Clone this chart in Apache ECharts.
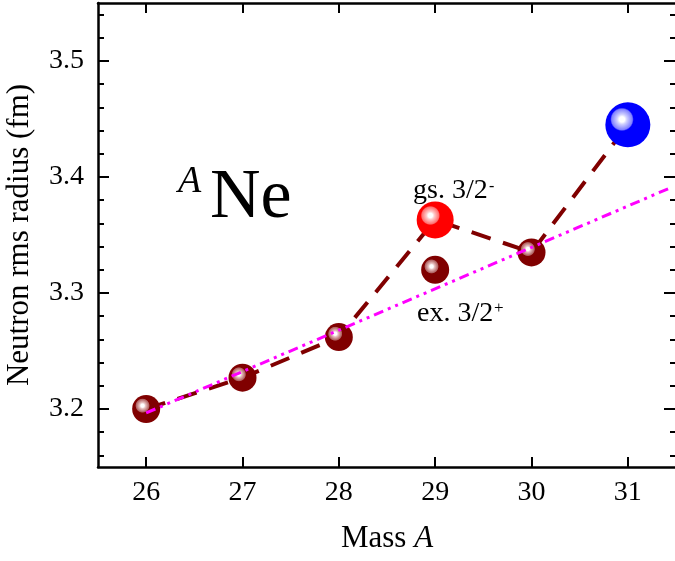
<!DOCTYPE html>
<html>
<head>
<meta charset="utf-8">
<script src="https://cdn.jsdelivr.net/npm/echarts@6/dist/echarts.min.js"></script>
<style>
html,body{margin:0;padding:0;background:#fff;}
#chart{width:675px;height:561px;}
</style>
</head>
<body>
<div id="chart"></div>
<script>
// ---- data ----
var massA = [26, 27, 28, 29, 30, 31];
var chainRadius = [3.200, 3.227, 3.262, 3.363, 3.335, 3.445];   // dashed line (gs for 29)
var evenMass = [26, 27, 28, 29, 30];
var evenRadius = [3.200, 3.227, 3.262, 3.320, 3.335];          // dark red spheres (29 = ex. 3/2+)
var gsMass = [29];
var gsRadius = [3.363];                                         // red sphere (gs. 3/2-)
var blueMass = [31];
var blueRadius = [3.445];                                       // blue sphere
var fitStart = [26.0, 3.1966];
var fitEnd = [31.45, 3.391];
var xTicks = [26, 27, 28, 29, 30, 31];
var yTicks = [3.2, 3.3, 3.4, 3.5];
var yMinorTicks = [3.16, 3.18, 3.22, 3.24, 3.26, 3.28, 3.32, 3.34, 3.36, 3.38, 3.42, 3.44, 3.46, 3.48, 3.52, 3.54];

function zip(xs, ys) { return xs.map(function (x, i) { return [x, ys[i]]; }); }

function sphere(base, ringIn, ringOut) {
  return {
    type: 'radial', x: 0.37, y: 0.38, r: 0.5,
    colorStops: [
      {offset: 0, color: '#ffffff'},
      {offset: 0.12, color: '#ffffff'},
      {offset: 0.22, color: ringIn},
      {offset: 0.46, color: ringOut},
      {offset: 0.52, color: base},
      {offset: 1, color: base}
    ]
  };
}

var FONT = '"Liberation Serif", "Times New Roman", serif';
var chart = echarts.init(document.getElementById('chart'), null, {renderer: 'canvas'});

function yAx(pos, vals, len, withLine, withLabel) {
  return {
    type: 'value', position: pos, min: 3.15, max: 3.55, interval: 0.05,
    axisLine: {show: withLine, onZero: false, lineStyle: {color: '#000', width: 2.5}},
    axisTick: {show: true, inside: true, length: len, customValues: vals, lineStyle: {color: '#000', width: 2}},
    axisLabel: withLabel ? {show: true, customValues: yTicks, margin: 14, color: '#000', fontFamily: FONT, fontSize: 28,
      formatter: function (v) { return v.toFixed(1); }} : {show: false},
    splitLine: {show: false}
  };
}

var option = {
  animation: false,
  backgroundColor: '#fff',
  grid: {left: 98, top: 3, width: 578, height: 464, containLabel: false, outerBoundsMode: 'none'},
  xAxis: [
    {
      type: 'value', position: 'bottom', min: 25.5, max: 31.5, interval: 0.5,
      name: '{r|Mass }{i|A}', nameLocation: 'middle', nameGap: 56,
      nameTextStyle: {rich: {
        r: {fontFamily: FONT, fontSize: 31, color: '#000'},
        i: {fontFamily: FONT, fontSize: 31, fontStyle: 'italic', color: '#000'}
      }},
      axisLine: {show: true, onZero: false, lineStyle: {color: '#000', width: 2.5}},
      axisTick: {show: true, inside: true, length: 10, customValues: xTicks, lineStyle: {color: '#000', width: 2}},
      axisLabel: {show: true, customValues: xTicks, margin: 12, color: '#000', fontFamily: FONT, fontSize: 28},
      splitLine: {show: false}
    },
    {
      type: 'value', position: 'top', min: 25.5, max: 31.5, interval: 0.5,
      axisLine: {show: true, onZero: false, lineStyle: {color: '#000', width: 2.5}},
      axisTick: {show: true, inside: true, length: 10, customValues: xTicks, lineStyle: {color: '#000', width: 2}},
      axisLabel: {show: false},
      splitLine: {show: false}
    }
  ],
  yAxis: [
    Object.assign(yAx('left', yTicks, 11, true, true), {
      name: 'Neutron rms radius (fm)', nameLocation: 'middle', nameGap: 63, nameRotate: 90,
      nameTextStyle: {fontFamily: FONT, fontSize: 31, color: '#000'}
    }),
    yAx('left', yMinorTicks, 6, false, false),
    yAx('right', yTicks, 12, true, false),
    yAx('right', yMinorTicks, 6, false, false)
  ],
  graphic: [
    {type: 'text', z: 100, style: {x: 178, y: 163, text: 'A', fill: '#000',
      font: 'italic 38px ' + FONT}},
    {type: 'text', z: 100, style: {x: 210, y: 164, text: 'Ne', fill: '#000',
      font: '70px ' + FONT}},
    {type: 'text', z: 100, style: {x: 413, y: 177, text: 'gs. 3/2', fill: '#000',
      font: '28px ' + FONT}},
    {type: 'text', z: 100, style: {x: 489, y: 179, text: '-', fill: '#000',
      font: '16px ' + FONT}},
    {type: 'text', z: 100, style: {x: 417, y: 300, text: 'ex. 3/2', fill: '#000',
      font: '28px ' + FONT}},
    {type: 'text', z: 100, style: {x: 494, y: 300, text: '+', fill: '#000',
      font: '17px ' + FONT}}
  ],
  series: [
    {
      type: 'line', z: 2, data: zip(massA, chainRadius), showSymbol: false, symbol: 'none', silent: true,
      lineStyle: {color: '#800000', width: 4, type: [20, 13]}
    },
    {
      type: 'scatter', z: 3, data: zip(evenMass, evenRadius), symbol: 'circle', symbolSize: 28, silent: true,
      itemStyle: {color: sphere('#800000', '#e6c0c0', '#b06060'), opacity: 1}
    },
    {
      type: 'scatter', z: 3, data: zip(gsMass, gsRadius), symbol: 'circle', symbolSize: 37, silent: true,
      itemStyle: {color: sphere('#ff0000', '#ffc8c8', '#ff7070'), opacity: 1}
    },
    {
      type: 'scatter', z: 3, data: zip(blueMass, blueRadius), symbol: 'circle', symbolSize: 45, silent: true,
      itemStyle: {color: sphere('#0000ff', '#d0d0ff', '#8080ff'), opacity: 1}
    },
    {
      type: 'line', z: 5, data: [fitStart, fitEnd], showSymbol: false, symbol: 'none', silent: true,
      lineStyle: {width: 0, opacity: 0},
      markLine: {
        silent: true, animation: false, symbol: ['none', 'arrow'], symbolSize: [0, 16],
        label: {show: false},
        lineStyle: {color: '#ff00ff', width: 3, type: [10, 5, 3, 5, 3, 5], opacity: 1},
        emphasis: {disabled: true},
        data: [[{coord: fitStart}, {coord: fitEnd}]]
      }
    }
  ]
};
chart.setOption(option);
</script>
</body>
</html>
